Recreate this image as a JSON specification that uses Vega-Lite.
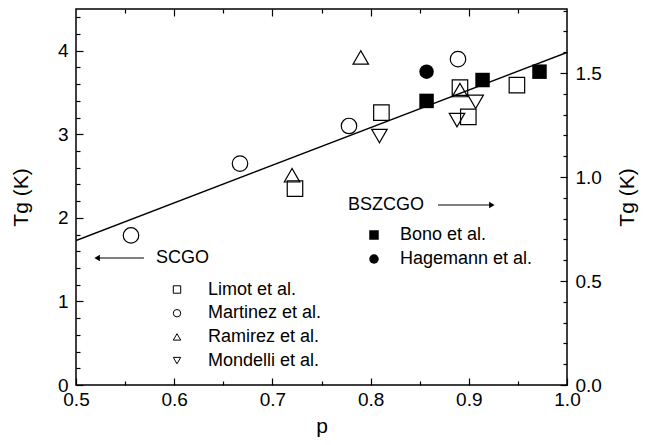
{
  "$schema": "https://vega.github.io/schema/vega-lite/v6.json",
  "width": 491,
  "height": 376,
  "autosize": {"type": "none"},
  "padding": {"left": 76, "top": 9, "right": 85, "bottom": 60},
  "config": {
    "font": "Liberation Sans",
    "view": {"stroke": "black", "strokeWidth": 1.5},
    "axis": {"domain": false, "grid": false, "labelFont": "Liberation Sans", "labelFontSize": 19, "labelColor": "black", "titleFont": "Liberation Sans", "titleFontSize": 21, "titleFontWeight": "normal", "titleColor": "black", "tickColor": "black", "tickWidth": 1.2, "labelFlush": false, "labelOverlap": false},
    "legend": {"labelFont": "Liberation Sans", "labelFontSize": 18, "labelColor": "black", "padding": 0}
  },
  "datasets": {
    "fit": [{"p": 0.5, "T": 1.73}, {"p": 1.0, "T": 3.98}],
    "open": [
      {"series": "Limot et al.", "p": 0.723, "T": 2.35},
      {"series": "Limot et al.", "p": 0.811, "T": 3.26},
      {"series": "Limot et al.", "p": 0.891, "T": 3.56},
      {"series": "Limot et al.", "p": 0.8995, "T": 3.21},
      {"series": "Limot et al.", "p": 0.949, "T": 3.59},
      {"series": "Martinez et al.", "p": 0.556, "T": 1.79},
      {"series": "Martinez et al.", "p": 0.667, "T": 2.65},
      {"series": "Martinez et al.", "p": 0.778, "T": 3.10},
      {"series": "Martinez et al.", "p": 0.889, "T": 3.90},
      {"series": "Ramirez et al.", "p": 0.720, "T": 2.51},
      {"series": "Ramirez et al.", "p": 0.790, "T": 3.92},
      {"series": "Ramirez et al.", "p": 0.891, "T": 3.53},
      {"series": "Mondelli et al.", "p": 0.809, "T": 2.98},
      {"series": "Mondelli et al.", "p": 0.888, "T": 3.17},
      {"series": "Mondelli et al.", "p": 0.907, "T": 3.39}
    ],
    "filled": [
      {"series": "Bono et al.", "p": 0.857, "T": 3.40},
      {"series": "Bono et al.", "p": 0.914, "T": 3.65},
      {"series": "Bono et al.", "p": 0.972, "T": 3.75},
      {"series": "Hagemann et al.", "p": 0.857, "T": 3.75}
    ]
  },
  "layer": [
    {
      "data": {"name": "fit"},
      "mark": {"type": "line", "opacity": 0},
      "encoding": {
        "x": {"field": "p", "type": "quantitative", "scale": {"domain": [0.5, 1.0], "nice": false, "zero": false},
              "axis": {"orient": "bottom", "values": [0.5, 0.6, 0.7, 0.8, 0.9, 1.0], "format": ".1f", "tickSize": -7, "labelPadding": 12, "title": "p", "titlePadding": 6}},
        "y": {"field": "T", "type": "quantitative", "scale": {"domain": [0, 4.5], "nice": false, "zero": false},
              "axis": {"orient": "left", "values": [0, 1, 2, 3, 4], "format": "d", "tickSize": -7, "labelPadding": 15, "title": "Tg (K)", "titlePadding": 26}}
      }
    },
    {
      "data": {"name": "fit"},
      "mark": {"type": "line", "opacity": 0},
      "encoding": {
        "x": {"field": "p", "type": "quantitative", "scale": {"domain": [0.5, 1.0], "nice": false, "zero": false},
              "axis": {"orient": "bottom", "values": [0.55, 0.65, 0.75, 0.85, 0.95], "tickSize": -4, "labels": false, "title": null}},
        "y": {"field": "T", "type": "quantitative", "scale": {"domain": [0, 4.5], "nice": false, "zero": false},
              "axis": {"orient": "left", "values": [0.2, 0.4, 0.6, 0.8, 1.2, 1.4, 1.6, 1.8, 2.2, 2.4, 2.6, 2.8, 3.2, 3.4, 3.6, 3.8, 4.2, 4.4], "tickSize": -4, "labels": false, "title": null}}
      }
    },
    {
      "data": {"name": "fit"},
      "mark": {"type": "line", "opacity": 0, "clip": true},
      "encoding": {
        "x": {"field": "p", "type": "quantitative", "scale": {"domain": [0.5, 1.0], "nice": false, "zero": false},
              "axis": {"orient": "top", "values": [0.6, 0.7, 0.8, 0.9], "tickSize": -7, "labels": false, "title": null}},
        "y": {"field": "T", "type": "quantitative", "scale": {"domain": [0, 1.808], "nice": false, "zero": false},
              "axis": {"orient": "right", "values": [0, 0.5, 1.0, 1.5], "format": ".1f", "tickSize": -7, "labelPadding": 15, "title": "Tg (K)", "titleAngle": 270, "titleBaseline": "top", "titlePadding": 15}}
      }
    },
    {
      "data": {"name": "fit"},
      "mark": {"type": "line", "opacity": 0, "clip": true},
      "encoding": {
        "x": {"field": "p", "type": "quantitative", "scale": {"domain": [0.5, 1.0], "nice": false, "zero": false},
              "axis": {"orient": "top", "values": [0.55, 0.65, 0.75, 0.85, 0.95], "tickSize": -4, "labels": false, "title": null}},
        "y": {"field": "T", "type": "quantitative", "scale": {"domain": [0, 1.808], "nice": false, "zero": false},
              "axis": {"orient": "right", "values": [0.1, 0.2, 0.3, 0.4, 0.6, 0.7, 0.8, 0.9, 1.1, 1.2, 1.3, 1.4, 1.6, 1.7, 1.8], "tickSize": -4, "labels": false, "title": null}}
      }
    },
    {
      "data": {"name": "fit"},
      "mark": {"type": "line", "color": "black", "strokeWidth": 1.5, "clip": true},
      "encoding": {
        "x": {"field": "p", "type": "quantitative", "scale": {"domain": [0.5, 1.0], "nice": false, "zero": false}, "axis": null},
        "y": {"field": "T", "type": "quantitative", "scale": {"domain": [0, 4.5], "nice": false, "zero": false}, "axis": null}
      }
    },
    {
      "data": {"name": "open"},
      "mark": {"type": "point", "filled": false, "color": "black", "strokeWidth": 1.2, "size": 240, "opacity": 1},
      "encoding": {
        "x": {"field": "p", "type": "quantitative", "scale": {"domain": [0.5, 1.0], "nice": false, "zero": false}, "axis": null},
        "y": {"field": "T", "type": "quantitative", "scale": {"domain": [0, 4.5], "nice": false, "zero": false}, "axis": null},
        "shape": {"field": "series", "type": "nominal",
                  "scale": {"domain": ["Limot et al.", "Martinez et al.", "Ramirez et al.", "Mondelli et al."], "range": ["square", "circle", "triangle-up", "triangle-down"]},
                  "legend": {"orient": "none", "legendX": 92, "legendY": 271.5, "title": null, "symbolSize": 55, "symbolStrokeColor": "black", "symbolStrokeWidth": 1, "labelOffset": 22, "rowPadding": 5.7}}
      }
    },
    {
      "data": {"name": "filled"},
      "mark": {"type": "point", "filled": true, "color": "black", "size": 210, "opacity": 1},
      "encoding": {
        "x": {"field": "p", "type": "quantitative", "scale": {"domain": [0.5, 1.0], "nice": false, "zero": false}, "axis": null},
        "y": {"field": "T", "type": "quantitative", "scale": {"domain": [0, 4.5], "nice": false, "zero": false}, "axis": null},
        "shape": {"field": "series", "type": "nominal",
                  "scale": {"domain": ["Bono et al.", "Hagemann et al."], "range": ["square", "circle"]},
                  "legend": {"orient": "none", "legendX": 289, "legendY": 217, "title": null, "symbolSize": 90, "symbolFillColor": "black", "symbolStrokeColor": "black", "labelOffset": 17, "rowPadding": 6}}
      }
    },
    {
      "data": {"values": [{}]},
      "mark": {"type": "text", "text": "SCGO", "align": "left", "baseline": "middle", "fontSize": 18, "color": "black"},
      "encoding": {
        "x": {"datum": 0.5815, "type": "quantitative", "scale": {"domain": [0.5, 1.0], "nice": false, "zero": false}, "axis": null},
        "y": {"datum": 1.52, "type": "quantitative", "scale": {"domain": [0, 4.5], "nice": false, "zero": false}, "axis": null}
      }
    },
    {
      "data": {"values": [{}]},
      "mark": {"type": "text", "text": "BSZCGO", "align": "left", "baseline": "middle", "fontSize": 18, "color": "black"},
      "encoding": {
        "x": {"datum": 0.777, "type": "quantitative", "scale": {"domain": [0.5, 1.0], "nice": false, "zero": false}, "axis": null},
        "y": {"datum": 2.154, "type": "quantitative", "scale": {"domain": [0, 4.5], "nice": false, "zero": false}, "axis": null}
      }
    },
    {
      "data": {"values": [{}]},
      "mark": {"type": "rule", "color": "black", "strokeWidth": 1.2},
      "encoding": {
        "x": {"datum": 0.522, "type": "quantitative", "scale": {"domain": [0.5, 1.0], "nice": false, "zero": false}, "axis": null},
        "x2": {"datum": 0.5692},
        "y": {"datum": 1.52, "type": "quantitative", "scale": {"domain": [0, 4.5], "nice": false, "zero": false}, "axis": null}
      }
    },
    {
      "data": {"values": [{}]},
      "mark": {"type": "point", "shape": "triangle-left", "filled": true, "color": "black", "size": 40, "opacity": 1},
      "encoding": {
        "x": {"datum": 0.5215, "type": "quantitative", "scale": {"domain": [0.5, 1.0], "nice": false, "zero": false}, "axis": null},
        "y": {"datum": 1.52, "type": "quantitative", "scale": {"domain": [0, 4.5], "nice": false, "zero": false}, "axis": null}
      }
    },
    {
      "data": {"values": [{}]},
      "mark": {"type": "rule", "color": "black", "strokeWidth": 1.2},
      "encoding": {
        "x": {"datum": 0.8686, "type": "quantitative", "scale": {"domain": [0.5, 1.0], "nice": false, "zero": false}, "axis": null},
        "x2": {"datum": 0.923},
        "y": {"datum": 2.154, "type": "quantitative", "scale": {"domain": [0, 4.5], "nice": false, "zero": false}, "axis": null}
      }
    },
    {
      "data": {"values": [{}]},
      "mark": {"type": "point", "shape": "triangle-right", "filled": true, "color": "black", "size": 40, "opacity": 1},
      "encoding": {
        "x": {"datum": 0.9235, "type": "quantitative", "scale": {"domain": [0.5, 1.0], "nice": false, "zero": false}, "axis": null},
        "y": {"datum": 2.154, "type": "quantitative", "scale": {"domain": [0, 4.5], "nice": false, "zero": false}, "axis": null}
      }
    }
  ],
  "resolve": {
    "scale": {"y": "independent", "shape": "independent"},
    "axis": {"x": "independent", "y": "independent"},
    "legend": {"shape": "independent"}
  }
}
